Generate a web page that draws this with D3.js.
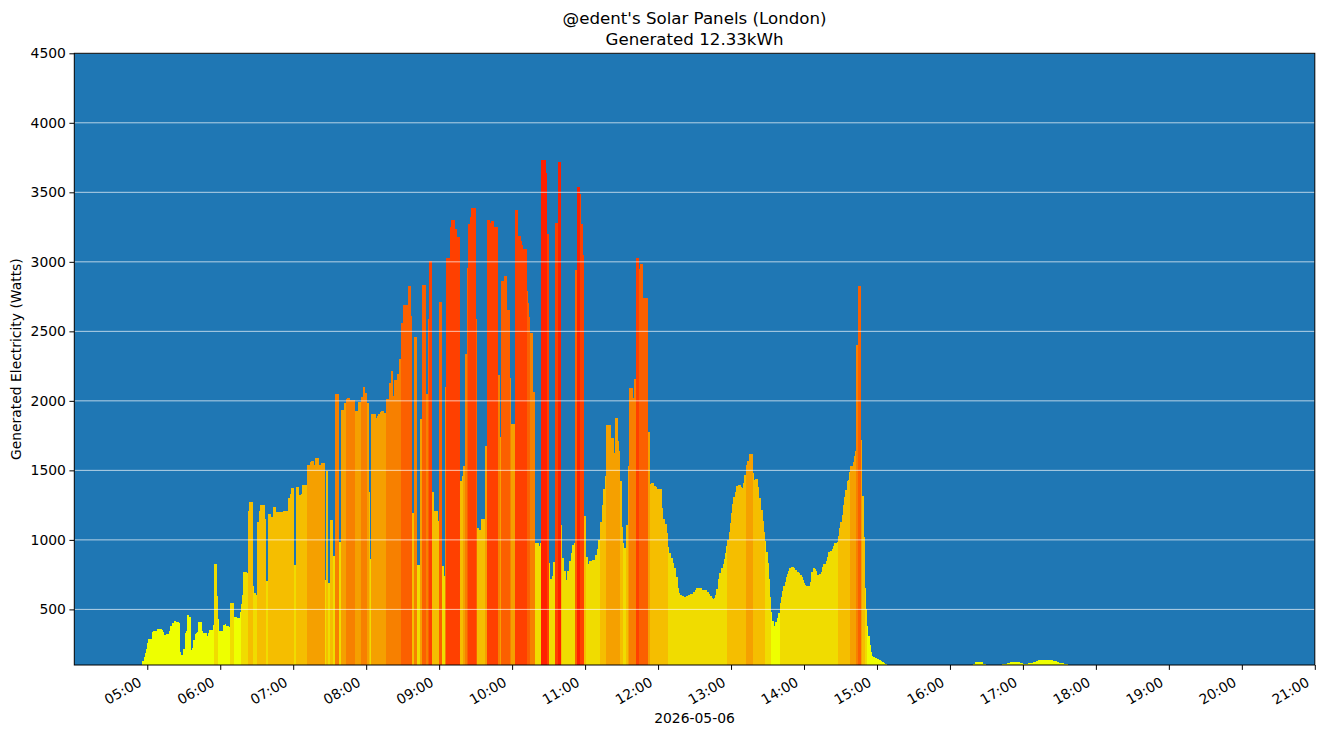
<!DOCTYPE html>
<html>
<head>
<meta charset="utf-8">
<script src="https://cdn.jsdelivr.net/npm/d3@7"></script>
<style>
    body { margin: 0; background: #fff; }
    svg text { font-family: "DejaVu Sans", sans-serif; fill: #000; }
</style>
</head>
<body>
<div id="wrapper"></div>
<script>
const day = '2026-05-06'
const titleLines = ["@edent's Solar Panels (London)", 'Generated 12.33kWh']
const xLabel = '2026-05-06'
const yLabel = 'Generated Electricity (Watts)'

// watts, one value per minute, each list starts at the time given in `segments`
const h04 = [130, 154, 185, 216]
const h05 = [
    257, 288, 288, 288, 338, 345, 345, 345, 359, 359,
    359, 359, 350, 338, 316, 323, 323, 323, 345, 380,
    402, 402, 416, 416, 409, 409, 400, 190, 175, 216,
    216, 330, 345, 459, 445, 445, 210, 223, 280, 323,
    330, 338, 409, 409, 409, 345, 330, 330, 330, 309,
    330, 352, 352, 352, 388, 825, 825, 595, 431, 345]
const h06 = [
    345, 345, 388, 388, 395, 380, 380, 373, 545, 545,
    545, 445, 445, 445, 438, 438, 481, 540, 603, 767,
    767, 767, 760, 1211, 1276, 1276, 1276, 667, 617, 603,
    1132, 1132, 1211, 1254, 1254, 1254, 1254, 1147, 703, 1183,
    1183, 1183, 1168, 1240, 1240, 1240, 1204, 1204, 1197, 1197,
    1197, 1197, 1211, 1211, 1211, 1211, 1304, 1330, 1376, 1376]
const h07 = [
    1376, 817, 1383, 1383, 1383, 1326, 1333, 1397, 1397, 1397,
    1397, 1541, 1541, 1541, 1562, 1569, 1569, 1541, 1591, 1591,
    1591, 1541, 1541, 1555, 1555, 1555, 710, 1498, 1498, 689,
    1140, 1140, 1140, 882, 2049, 2049, 2049, 2049, 982, 1935,
    1935, 1935, 1985, 2013, 2020, 2020, 2020, 2003, 2003, 2003,
    2003, 1927, 1927, 1992, 1992, 1992, 2028, 2099, 2099, 2056]
const h08 = [
    2056, 1985, 1347, 860, 1906, 1906, 1906, 1906, 1877, 1892,
    1906, 1920, 1927, 1927, 1927, 1913, 2013, 2013, 2013, 2128,
    2214, 2214, 2037, 2151, 2151, 2195, 2195, 2302, 2302, 2560,
    2689, 2689, 2689, 2689, 2825, 2825, 2825, 2610, 1191, 2460,
    2460, 2460, 818, 818, 1872, 1872, 2833, 2833, 2833, 2051,
    2051, 2589, 3005, 3005, 1341, 1341, 1205, 1205, 1205, 1133]
const h09 = [
    2711, 2711, 811, 811, 739, 2101, 3026, 3026, 3026, 3249,
    3299, 3299, 3299, 3234, 3234, 3177, 3177, 1420, 1420, 1463,
    1535, 2338, 2338, 2955, 3270, 3320, 3385, 3385, 3385, 3385,
    2589, 1083, 1083, 1069, 1148, 1148, 1148, 1148, 1678, 3299,
    3299, 3299, 3277, 3292, 3292, 3249, 3249, 3249, 2187, 2187,
    1743, 2861, 2861, 2897, 2897, 2897, 2653, 2653, 2166, 1836]
const h10 = [
    1836, 1836, 3370, 3370, 3370, 3184, 3184, 3148, 3119, 3091,
    3091, 3091, 2790, 2704, 2600, 2488, 2488, 2065, 2065, 976,
    976, 976, 954, 976, 3729, 3729, 3729, 3729, 3640, 3198,
    832, 717, 717, 740, 839, 3277, 3277, 3277, 3715, 3715,
    1105, 868, 868, 775, 710, 775, 775, 847, 904, 961,
    961, 976, 2940, 3535, 3535, 3535, 3490, 3270, 3048, 1169]
const h11 = [
    1169, 875, 825, 847, 847, 847, 854, 854, 890, 890,
    933, 997, 1126, 1126, 1248, 1363, 1463, 1829, 1829, 1829,
    1829, 1736, 1736, 1736, 1628, 1879, 1879, 1714, 1640, 1427,
    1090, 976, 940, 940, 1105, 1535, 2094, 2094, 2094, 2020,
    2159, 2159, 3026, 3026, 2947, 2983, 2983, 2983, 2739, 2739,
    2739, 2739, 1779, 1399, 1406, 1406, 1406, 1384, 1382, 1368]
const h12 = [
    1368, 1368, 1368, 1231, 1152, 1152, 1117, 1052, 952, 909,
    909, 873, 837, 801, 801, 730, 651, 615, 600, 600,
    593, 586, 586, 593, 593, 600, 608, 608, 608, 622,
    636, 651, 651, 651, 651, 651, 643, 636, 636, 636,
    622, 622, 608, 593, 579, 572, 579, 600, 650, 720,
    765, 765, 801, 830, 866, 909, 959, 1002, 1059, 1124]
const h13 = [
    1195, 1260, 1310, 1346, 1389, 1389, 1396, 1396, 1382, 1375,
    1411, 1468, 1540, 1568, 1568, 1619, 1619, 1619, 1482, 1432,
    1439, 1439, 1382, 1303, 1303, 1217, 1138, 1059, 995, 916,
    837, 722, 586, 478, 414, 378, 407, 407, 435, 471,
    545, 590, 630, 665, 700, 730, 755, 775, 795, 804,
    804, 804, 795, 780, 770, 768, 760, 745, 730, 710]
const h14 = [
    689, 678, 667, 667, 667, 700, 768, 796, 796, 789,
    775, 746, 753, 753, 770, 804, 825, 825, 845, 880,
    911, 918, 920, 935, 955, 976, 976, 985, 1030, 1085,
    1126, 1180, 1250, 1310, 1360, 1420, 1430, 1490, 1528, 1528,
    1560, 1600, 1640, 2402, 2825, 2825, 2825, 1721, 1313, 1019,
    653, 502, 380, 309, 244, 190, 165, 158, 151, 151]
const h15 = [144, 144, 137, 130, 122, 122, 115, 108, 102]
const eve1 = [104, 107, 122, 122, 122, 122, 122, 122, 107, 107, 107]
const eve2 = [
    107, 107, 107, 107, 114, 114, 122, 122, 122, 122,
    122, 122, 122, 122, 122, 114, 114, 107, 107, 107,
    107, 114, 114, 114, 114, 122, 122, 122, 129, 136,
    136, 136, 136, 136, 136, 136, 136, 136, 136, 136,
    136, 136, 129, 129, 129, 122, 122, 114, 114, 114,
    114, 107, 107, 107]

const segments = [
    ['04:56', h04], ['05:00', h05], ['06:00', h06], ['07:00', h07],
    ['08:00', h08], ['09:00', h09], ['10:00', h10], ['11:00', h11],
    ['12:00', h12], ['13:00', h13], ['14:00', h14], ['15:00', h15],
    ['16:19', eve1], ['16:43', eve2]
]

const yTicks = [500, 1000, 1500, 2000, 2500, 3000, 3500, 4000, 4500]
const xTicks = ['05:00', '06:00', '07:00', '08:00', '09:00', '10:00', '11:00', '12:00',
    '13:00', '14:00', '15:00', '16:00', '17:00', '18:00', '19:00', '20:00', '21:00']
const bandEdges = [500, 1000, 1500, 2000, 2500, 3000, 3500]
const bandColors = ['#eeff00', '#f0dc00', '#f5be00', '#f5a000', '#f78000', '#fb6000', '#ff4000', '#ff2000']

function solarChart() {
    const parseTime = d3.timeParse('%Y-%m-%d %H:%M')
    const data = []
    segments.forEach(([start, watts]) => {
        const t0 = parseTime(`${day} ${start}`)
        watts.forEach((w, i) => data.push({ time: d3.timeMinute.offset(t0, i), watts: w }))
    })
    const xAcc = d => d.time
    const yAcc = d => d.watts

    let dimensions = {
        width: 1324,
        height: 736,
        margin: { top: 53.3, right: 9.2, bottom: 71, left: 74.3 }
    }
    dimensions.boundedWidth = dimensions.width - dimensions.margin.left - dimensions.margin.right
    dimensions.boundedHeight = dimensions.height - dimensions.margin.top - dimensions.margin.bottom

    const svg = d3.select('#wrapper').append('svg')
        .attr('width', dimensions.width)
        .attr('height', dimensions.height)

    const bounds = svg.append('g')
        .attr('transform', `translate(${dimensions.margin.left}, ${dimensions.margin.top})`)

    const xScale = d3.scaleTime()
        .domain([parseTime(`${day} 04:00`), parseTime(`${day} 21:00`)])
        .range([0, dimensions.boundedWidth])
    const yScale = d3.scaleLinear()
        .domain([100, 4500])
        .range([dimensions.boundedHeight, 0])
    const colorScale = d3.scaleThreshold().domain(bandEdges).range(bandColors)

    bounds.append('rect')
        .attr('width', dimensions.boundedWidth)
        .attr('height', dimensions.boundedHeight)
        .attr('fill', '#1f77b4')

    // snap bar edges to whole pixels so neighbours meet without seams
    const edge = t => Math.round(dimensions.margin.left + xScale(t)) - dimensions.margin.left
    bounds.append('g')
        .attr('shape-rendering', 'crispEdges')
        .selectAll('rect')
        .data(data.filter(d => yAcc(d) > 100))
        .enter()
        .append('rect')
        .attr('x', d => edge(xAcc(d)))
        .attr('width', d => Math.max(1, edge(d3.timeMinute.offset(xAcc(d), 1)) - edge(xAcc(d))))
        .attr('y', d => yScale(yAcc(d)))
        .attr('height', d => yScale(100) - yScale(yAcc(d)))
        .attr('fill', d => colorScale(yAcc(d)))

    // grid sits on top of the bars
    bounds.append('g').selectAll('line')
        .data(yTicks)
        .enter()
        .append('line')
        .attr('x1', 0)
        .attr('x2', dimensions.boundedWidth)
        .attr('y1', d => yScale(d))
        .attr('y2', d => yScale(d))
        .attr('stroke', '#ffffff')
        .attr('stroke-opacity', 0.85)
        .attr('stroke-width', 0.8)

    const yAxis = d3.axisLeft(yScale)
        .tickValues(yTicks)
        .tickFormat(d3.format('d'))
        .tickSize(4.9)
        .tickPadding(3.5)
    const yAxisG = bounds.append('g').call(yAxis)
    yAxisG.select('.domain').remove()
    yAxisG.selectAll('text').attr('font-size', 13.9).attr('font-family', 'DejaVu Sans')

    const xAxis = d3.axisBottom(xScale)
        .tickValues(xTicks.map(t => parseTime(`${day} ${t}`)))
        .tickFormat(d3.timeFormat('%H:%M'))
        .tickSize(4.9)
    const xAxisG = bounds.append('g')
        .attr('transform', `translate(0, ${dimensions.boundedHeight})`)
        .call(xAxis)
    xAxisG.select('.domain').remove()
    xAxisG.selectAll('text')
        .attr('font-size', 13.9)
        .attr('font-family', 'DejaVu Sans')
        .attr('y', 0)
        .attr('dy', 0)
        .attr('text-anchor', 'end')
        .attr('transform', 'translate(-5, 20) rotate(-30)')

    bounds.append('rect')
        .attr('width', dimensions.boundedWidth)
        .attr('height', dimensions.boundedHeight)
        .attr('fill', 'none')
        .attr('stroke', '#000')
        .attr('stroke-width', 1)

    svg.append('text')
        .attr('x', dimensions.margin.left + dimensions.boundedWidth / 2)
        .attr('y', 24)
        .attr('text-anchor', 'middle')
        .attr('font-size', 16.67)
        .text(titleLines[0])
    svg.append('text')
        .attr('x', dimensions.margin.left + dimensions.boundedWidth / 2)
        .attr('y', 45)
        .attr('text-anchor', 'middle')
        .attr('font-size', 16.67)
        .text(titleLines[1])

    svg.append('text')
        .attr('x', dimensions.margin.left + dimensions.boundedWidth / 2)
        .attr('y', 723)
        .attr('text-anchor', 'middle')
        .attr('font-size', 13.9)
        .text(xLabel)

    svg.append('text')
        .attr('transform', `translate(21, ${dimensions.margin.top + dimensions.boundedHeight / 2}) rotate(-90)`)
        .attr('text-anchor', 'middle')
        .attr('font-size', 13.9)
        .text(yLabel)
}

solarChart()
</script>
</body>
</html>
